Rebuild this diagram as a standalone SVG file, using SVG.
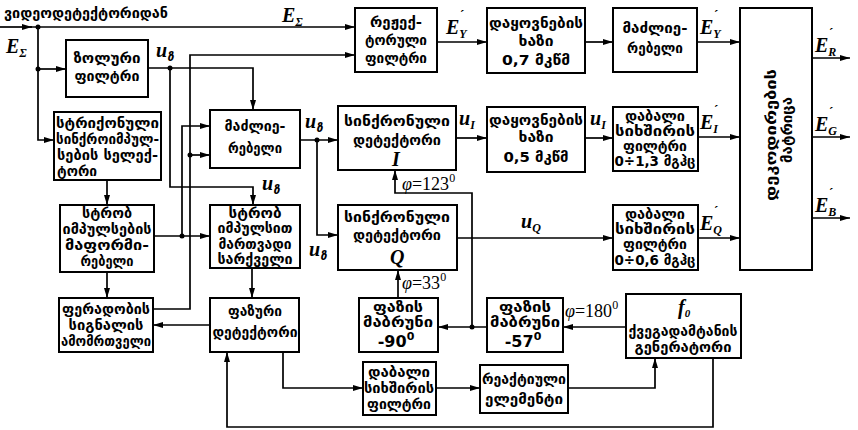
<svg xmlns="http://www.w3.org/2000/svg" width="858" height="430" viewBox="0 0 858 430">
<style>
.bx{fill:#fff;stroke:#000;stroke-width:2}
.ar{fill:none;stroke:#000;stroke-width:1.7;marker-end:url(#a)}
.t{font-family:"DejaVu Sans",sans-serif;font-size:14.5px;font-weight:bold;text-anchor:middle;fill:#000}
.tl{font-family:"DejaVu Sans",sans-serif;font-size:14.5px;font-weight:bold;fill:#000}
.m{font-family:"Liberation Serif",serif;font-style:italic;font-weight:bold;font-size:20px;fill:#000}
.pr{font-family:"Liberation Serif",serif;font-weight:bold;font-size:13px;fill:#000}
.s{font-size:12px}
.g{font-family:"DejaVu Sans",sans-serif;font-size:12px;font-style:italic;font-weight:bold}
.p{font-family:"Liberation Serif",serif;font-size:18px;fill:#000}
.n{font-family:"DejaVu Sans",sans-serif;font-size:16px;font-weight:bold;text-anchor:middle;fill:#000}
</style>
<defs>
<marker id="a" viewBox="0 0 10 6" refX="10" refY="3" markerWidth="10" markerHeight="6" markerUnits="userSpaceOnUse" orient="auto"><path d="M0,0 L10,3 L0,6 z" fill="#000"/></marker>
</defs>
<rect width="858" height="430" fill="#fff"/>

<g id="connectors">
<path class="ar" d="M0,27 H32"/>
<path class="ar" d="M30,27 H355"/>
<path class="ar" d="M38,27 V140 H54"/>
<path class="ar" d="M38,69 H66"/>
<path class="ar" d="M148,68 H253 V110"/>
<path class="ar" d="M170,68 V187 H253 V205"/>
<path class="ar" d="M153,309 H190 V55 H355"/>
<path class="ar" d="M190,155 H210"/>
<path class="ar" d="M107,180 V205"/>
<path class="ar" d="M154,236 H210"/>
<path class="ar" d="M182,236 V126 H210"/>
<path class="ar" d="M107,272 V298"/>
<path class="ar" d="M210,325 H153"/>
<path class="ar" d="M300,140 H338"/>
<path class="ar" d="M317,140 V235 H338"/>
<path class="ar" d="M252,268 V298"/>
<path class="ar" d="M283,352 V388 H363"/>
<path class="ar" d="M436,388 H480"/>
<path class="ar" d="M568,388 H655 V358"/>
<path class="ar" d="M713,358 V427 H227 V352"/>
<path class="ar" d="M626,327 H563"/>
<path class="ar" d="M487,327 H438"/>
<path class="ar" d="M472,327 V193 H395 V170"/>
<path class="ar" d="M398,298 V270"/>
<path class="ar" d="M456,138 H487"/>
<path class="ar" d="M585,138 H613"/>
<path class="ar" d="M697,137 H740"/>
<path class="ar" d="M457,238 H613"/>
<path class="ar" d="M698,238 H740"/>
<path class="ar" d="M437,42 H487"/>
<path class="ar" d="M585,42 H613"/>
<path class="ar" d="M697,42 H740"/>
<path class="ar" d="M812,58 H850"/>
<path class="ar" d="M812,137 H850"/>
<path class="ar" d="M812,218 H850"/>
<g fill="#000">
<circle cx="38" cy="27" r="2.5"/><circle cx="38" cy="69" r="2.5"/>
<circle cx="170" cy="68" r="2.5"/><circle cx="190" cy="155" r="2.5"/>
<circle cx="182" cy="236" r="2.5"/><circle cx="317" cy="140" r="2.5"/>
<circle cx="472" cy="327" r="2.5"/>
</g>
</g>

<g id="labels">
<text class="tl" x="4" y="18" textLength="164" lengthAdjust="spacingAndGlyphs">ვიდეოდეტექტორიდან</text>
<text class="m" x="6" y="53">E<tspan class="s" dy="4">Σ</tspan></text>
<text class="m" x="282" y="22">E<tspan class="s" dy="4">Σ</tspan></text>
<text class="m" x="156" y="57">u<tspan class="g" dy="4">ზ</tspan></text>
<text class="m" x="305" y="128">u<tspan class="g" dy="4">ზ</tspan></text>
<text class="m" x="262" y="190">u<tspan class="g" dy="4">ზ</tspan></text>
<text class="m" x="309" y="256">u<tspan class="g" dy="4">ზ</tspan></text>
<text class="m" x="459" y="125">u<tspan class="s" dy="4">I</tspan></text>
<text class="m" x="590" y="125">u<tspan class="s" dy="4">I</tspan></text>
<text class="m" x="521" y="228">u<tspan class="s" dy="4">Q</tspan></text>
<text class="m" x="446" y="34">E<tspan class="s" dy="4">Y</tspan></text><text class="pr" x="460" y="19">´</text>
<text class="m" x="700" y="34">E<tspan class="s" dy="4">Y</tspan></text><text class="pr" x="714" y="19">´</text>
<text class="m" x="700" y="129">E<tspan class="s" dy="4">I</tspan></text><text class="pr" x="714" y="114">´</text>
<text class="m" x="700" y="230">E<tspan class="s" dy="4">Q</tspan></text><text class="pr" x="714" y="215">´</text>
<text class="m" x="815" y="52">E<tspan class="s" dy="4">R</tspan></text><text class="pr" x="829" y="37">´</text>
<text class="m" x="815" y="131">E<tspan class="s" dy="4">G</tspan></text><text class="pr" x="829" y="116">´</text>
<text class="m" x="815" y="212">E<tspan class="s" dy="4">B</tspan></text><text class="pr" x="829" y="197">´</text>
<text class="p" x="402" y="190"><tspan font-style="italic">φ</tspan>=123<tspan font-size="12" dy="-8">0</tspan></text>
<text class="p" x="402" y="289"><tspan font-style="italic">φ</tspan>=33<tspan font-size="12" dy="-8">0</tspan></text>
<text class="p" x="565" y="317"><tspan font-style="italic">φ</tspan>=180<tspan font-size="12" dy="-8">0</tspan></text>
</g>

<g id="band-filter"><rect class="bx" x="66" y="40" width="82" height="57"/>
<text class="t" x="107" y="63" textLength="67" lengthAdjust="spacingAndGlyphs">ზოლური</text><text class="t" x="107" y="81" textLength="65" lengthAdjust="spacingAndGlyphs">ფილტრი</text></g>

<g id="sync-selector"><rect class="bx" x="54" y="112" width="107" height="68"/>
<text class="tl" x="56" y="128" textLength="103" lengthAdjust="spacingAndGlyphs">სტრიქონული</text><text class="tl" x="56" y="144" textLength="103" lengthAdjust="spacingAndGlyphs">სინქროიმპულ-</text><text class="tl" x="57" y="160" textLength="101" lengthAdjust="spacingAndGlyphs">სების  სელექ-</text><text class="tl" x="57" y="176" textLength="40" lengthAdjust="spacingAndGlyphs">ტორი</text></g>

<g id="strobe-shaper"><rect class="bx" x="60" y="205" width="94" height="67"/>
<text class="t" x="107" y="218" textLength="50" lengthAdjust="spacingAndGlyphs">სტრობ</text><text class="t" x="107" y="234" textLength="89" lengthAdjust="spacingAndGlyphs">იმპულსების</text><text class="t" x="107" y="250" textLength="84" lengthAdjust="spacingAndGlyphs">მაფორმი-</text><text class="t" x="107" y="266" textLength="53" lengthAdjust="spacingAndGlyphs">რებელი</text></g>

<g id="color-killer"><rect class="bx" x="59" y="298" width="94" height="54"/>
<text class="t" x="106" y="314" textLength="88" lengthAdjust="spacingAndGlyphs">ფერადობის</text><text class="t" x="106" y="330" textLength="75" lengthAdjust="spacingAndGlyphs">სიგნალის</text><text class="t" x="106" y="346" textLength="90" lengthAdjust="spacingAndGlyphs">ამომრთველი</text></g>

<g id="chroma-amp"><rect class="bx" x="210" y="110" width="90" height="58"/>
<text class="t" x="255" y="131" textLength="61" lengthAdjust="spacingAndGlyphs">მაძლიე-</text><text class="t" x="255" y="153" textLength="54" lengthAdjust="spacingAndGlyphs">რებელი</text></g>

<g id="burst-gate"><rect class="bx" x="210" y="205" width="90" height="63"/>
<text class="t" x="255" y="218" textLength="53" lengthAdjust="spacingAndGlyphs">სტრობ</text><text class="t" x="255" y="233" textLength="75" lengthAdjust="spacingAndGlyphs">იმპულსით</text><text class="t" x="255" y="249" textLength="73" lengthAdjust="spacingAndGlyphs">მართვადი</text><text class="t" x="255" y="264" textLength="75" lengthAdjust="spacingAndGlyphs">სარქველი</text></g>

<g id="phase-detector"><rect class="bx" x="210" y="298" width="89" height="54"/>
<text class="t" x="255" y="316" textLength="54" lengthAdjust="spacingAndGlyphs">ფაზური</text><text class="t" x="255" y="337" textLength="85" lengthAdjust="spacingAndGlyphs">დეტექტორი</text></g>

<g id="reject-filter"><rect class="bx" x="355" y="8" width="82" height="64"/>
<text class="t" x="396" y="27" textLength="52" lengthAdjust="spacingAndGlyphs">რეჟექ-</text><text class="t" x="396" y="45" textLength="62" lengthAdjust="spacingAndGlyphs">ტორული</text><text class="t" x="396" y="63" textLength="62" lengthAdjust="spacingAndGlyphs">ფილტრი</text></g>

<g id="sync-det-i"><rect class="bx" x="338" y="106" width="118" height="64"/>
<text class="t" x="397" y="126" textLength="106" lengthAdjust="spacingAndGlyphs">სინქრონული</text><text class="t" x="397" y="145" textLength="88" lengthAdjust="spacingAndGlyphs">დეტექტორი</text><text class="m" x="392" y="166">I</text></g>

<g id="sync-det-q"><rect class="bx" x="338" y="205" width="119" height="65"/>
<text class="t" x="397" y="222" textLength="106" lengthAdjust="spacingAndGlyphs">სინქრონული</text><text class="t" x="397" y="240" textLength="88" lengthAdjust="spacingAndGlyphs">დეტექტორი</text><text class="m" x="390" y="264">Q</text></g>

<g id="phase-shift-90"><rect class="bx" x="359" y="298" width="79" height="54"/>
<text class="t" x="398" y="312" textLength="50" lengthAdjust="spacingAndGlyphs">ფაზის</text><text class="t" x="398" y="327" textLength="70" lengthAdjust="spacingAndGlyphs">მაბრუნი</text><text class="n" x="396" y="347">-90<tspan font-size="11" dy="-7">0</tspan></text></g>

<g id="phase-shift-57"><rect class="bx" x="487" y="298" width="76" height="54"/>
<text class="t" x="525" y="312" textLength="52" lengthAdjust="spacingAndGlyphs">ფაზის</text><text class="t" x="525" y="327" textLength="70" lengthAdjust="spacingAndGlyphs">მაბრუნი</text><text class="n" x="523" y="347">-57<tspan font-size="11" dy="-7">0</tspan></text></g>

<g id="lpf-loop"><rect class="bx" x="363" y="362" width="73" height="53"/>
<text class="t" x="399" y="377" font-size="13" textLength="62" lengthAdjust="spacingAndGlyphs">დაბალი</text><text class="t" x="399" y="393" font-size="13" textLength="70" lengthAdjust="spacingAndGlyphs">სიხშირის</text><text class="t" x="399" y="409" font-size="13" textLength="64" lengthAdjust="spacingAndGlyphs">ფილტრი</text></g>

<g id="reactance"><rect class="bx" x="480" y="365" width="88" height="48"/>
<text class="t" x="524" y="384" textLength="84" lengthAdjust="spacingAndGlyphs">რეაქტიული</text><text class="t" x="524" y="404" textLength="78" lengthAdjust="spacingAndGlyphs">ელემენტი</text></g>

<g id="generator"><rect class="bx" x="626" y="294" width="115" height="64"/>
<text class="m" x="678" y="314" font-size="18">f<tspan font-size="11" dy="3">0</tspan></text>
<text class="t" x="683" y="336" textLength="109" lengthAdjust="spacingAndGlyphs">ქვეგადამტანის</text><text class="t" x="683" y="352" textLength="97" lengthAdjust="spacingAndGlyphs">გენერატორი</text></g>

<g id="delay-07"><rect class="bx" x="487" y="8" width="98" height="65"/>
<text class="t" x="536" y="28" textLength="94" lengthAdjust="spacingAndGlyphs">დაყოვნების</text><text class="t" x="536" y="46" textLength="35" lengthAdjust="spacingAndGlyphs">ხაზი</text><text class="t" x="536" y="65" textLength="68" lengthAdjust="spacingAndGlyphs">0,7  მკწმ</text></g>

<g id="luma-amp"><rect class="bx" x="613" y="8" width="84" height="64"/>
<text class="t" x="655" y="33" textLength="65" lengthAdjust="spacingAndGlyphs">მაძლიე-</text><text class="t" x="655" y="53" textLength="56" lengthAdjust="spacingAndGlyphs">რებელი</text></g>

<g id="delay-05"><rect class="bx" x="487" y="107" width="98" height="65"/>
<text class="t" x="536" y="125" textLength="94" lengthAdjust="spacingAndGlyphs">დაყოვნების</text><text class="t" x="536" y="142" textLength="35" lengthAdjust="spacingAndGlyphs">ხაზი</text><text class="t" x="536" y="162" textLength="65" lengthAdjust="spacingAndGlyphs">0,5 მკწმ</text></g>

<g id="lpf-i"><rect class="bx" x="613" y="107" width="85" height="64"/>
<text class="t" x="655" y="121" textLength="60" lengthAdjust="spacingAndGlyphs">დაბალი</text><text class="t" x="655" y="136" textLength="80" lengthAdjust="spacingAndGlyphs">სიხშირის</text><text class="t" x="655" y="151" textLength="64" lengthAdjust="spacingAndGlyphs">ფილტრი</text><text class="t" x="655" y="166" textLength="81" lengthAdjust="spacingAndGlyphs">0÷1,3 მგჰც</text></g>

<g id="lpf-q"><rect class="bx" x="613" y="205" width="85" height="65"/>
<text class="t" x="655" y="219" textLength="60" lengthAdjust="spacingAndGlyphs">დაბალი</text><text class="t" x="655" y="234" textLength="80" lengthAdjust="spacingAndGlyphs">სიხშირის</text><text class="t" x="655" y="249" textLength="64" lengthAdjust="spacingAndGlyphs">ფილტრი</text><text class="t" x="655" y="265" textLength="81" lengthAdjust="spacingAndGlyphs">0÷0,6 მგჰც</text></g>

<g id="matrix"><rect class="bx" x="740" y="8" width="72" height="262"/>
<text class="t" transform="translate(776,135) rotate(-90)" font-size="16" textLength="132" lengthAdjust="spacingAndGlyphs">დეკოდირების</text>
<text class="t" transform="translate(792,130) rotate(-90)" font-size="16" textLength="66" lengthAdjust="spacingAndGlyphs">მატრიცა</text></g>
</svg>
